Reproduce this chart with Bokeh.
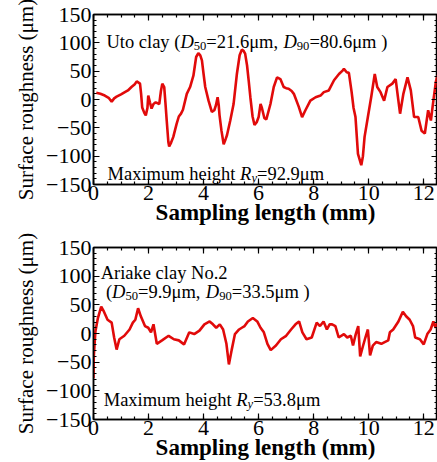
from bokeh.plotting import figure
from bokeh.layouts import column
from bokeh.models import Label, LinearAxis, Range1d, FixedTicker
from bokeh.embed import file_html
from bokeh.resources import INLINE
import numpy as np

# ---------------- data ----------------
uto_x = [0.10, 0.25, 0.41, 0.55, 0.66, 0.75, 0.84, 1.00, 1.14, 1.25, 1.38, 1.50, 1.57, 1.69,
         1.73, 1.77, 1.85, 1.90, 1.96, 1.99, 2.05, 2.11, 2.18, 2.26, 2.39, 2.45, 2.50, 2.57,
         2.62, 2.66, 2.72, 2.75, 2.82, 2.90, 3.02, 3.10, 3.18, 3.25, 3.39, 3.51, 3.63, 3.73,
         3.81, 3.88, 3.94, 4.00, 4.06, 4.18, 4.30, 4.39, 4.45, 4.51, 4.55, 4.58, 4.65, 4.73,
         4.80, 4.85, 4.97, 5.09, 5.21, 5.31, 5.39, 5.45, 5.51, 5.58, 5.64, 5.70, 5.78, 5.85,
         5.93, 6.00, 6.07, 6.12, 6.21, 6.28, 6.43, 6.55, 6.67, 6.79, 6.91, 7.00, 7.09, 7.20,
         7.28, 7.46, 7.58, 7.70, 7.88, 8.07, 8.25, 8.37, 8.55, 8.74, 8.92, 9.05, 9.10, 9.20,
         9.28, 9.38, 9.45, 9.52, 9.61, 9.73, 9.79, 9.85, 9.97, 10.09, 10.22, 10.31, 10.43,
         10.56, 10.68, 10.86, 10.98, 11.06, 11.14, 11.26, 11.41, 11.53, 11.65, 11.80, 11.92,
         12.04, 12.16, 12.26, 12.35, 12.44, 12.50]
uto_y = [12, 10, 7, 3, -4, 2, 5, 9, 13, 16, 22, 27, 32, 28,
         10, -14, -24, -28, -15, 7, -5, -16, -8, -5, -8, 15, 28, 22,
         -10, -37, -75, -83, -76, -66, -43, -30, -25, -18, 10, 22, 42, 75,
         82, 78, 69, 45, 22, -2, -22, -19, -10, 4, -10, -28, -55, -79,
         -70, -63, -37, -8, 45, 78, 88, 86, 81, 60, 33, 4, -30, -45,
         -40, -31, -8, -15, -33, -35, -8, 22, 39, 36, 22, 20, 19, 15,
         10, -13, -31, -19, -2, 4, 7, 13, 16, 34, 45, 51, 54, 48,
         47, 13, -15, -31, -96, -116, -100, -66, -31, 4, 45, 22, 13,
         -2, 22, 28, 36, 5, -25, 10, 39, 16, -31, -31, -55,
         -60, -19, -37, -2, 31, 42]

ariake_x = [0.00, 0.01, 0.07, 0.16, 0.28, 0.38, 0.51, 0.66, 0.75, 0.84, 0.94, 1.12, 1.31,
            1.43, 1.52, 1.62, 1.72, 1.87, 1.99, 2.09, 2.18, 2.30, 2.49, 2.73, 2.92, 3.10,
            3.29, 3.48, 3.66, 3.85, 4.03, 4.22, 4.34, 4.46, 4.59, 4.71, 4.83, 4.92, 5.02,
            5.14, 5.29, 5.39, 5.49, 5.61, 5.79, 5.95, 6.07, 6.19, 6.32, 6.44, 6.63, 6.81,
            7.00, 7.18, 7.34, 7.47, 7.59, 7.74, 7.93, 8.11, 8.23, 8.36, 8.48, 8.58, 8.67,
            8.79, 8.91, 9.10, 9.22, 9.35, 9.43, 9.53, 9.62, 9.69, 9.78, 9.88, 9.97, 10.05,
            10.15, 10.27, 10.46, 10.58, 10.71, 10.77, 10.89, 11.08, 11.24, 11.36, 11.49,
            11.61, 11.69, 11.86, 12.00, 12.13, 12.25, 12.35, 12.43, 12.50]
ariake_y = [-78, -40, 4, 27, 47, 38, 24, 19, -7, -28, -10, -4, 7,
            19, 24, 44, 30, 13, 10, 2, 16, -18, -12, -4, -10, -12,
            -19, 2, -1, 5, 16, 21, 16, 10, 16, 7, -18, -54, -29,
            -1, 7, 10, 13, 21, 27, 21, 10, 2, -18, -29, -21, -10,
            -4, 7, 16, 21, 2, -10, -7, 19, 13, 21, 7, 16, 16,
            13, -7, -1, -7, -4, -21, -1, 13, -40, -24, -7, 7, -38,
            -21, -15, -18, -15, -12, 2, 7, 21, 38, 30, 24,
            13, -7, -10, -19, -1, 7, 21, 10, 19]

x_ticks = [0, 2, 4, 6, 8, 10, 12]
y_ticks = [-150, -100, -50, 0, 50, 100, 150]

FONT = "Liberation Serif"
RED = "#e10a0a"

# approximate Times/Liberation Serif advance widths (1/1000 em), used to lay out rich text
W_REG = {" ": 250, "(": 333, ")": 333, ",": 250, ".": 250, "=": 564, "\u03bc": 576,
         "U": 722, "t": 278, "o": 500, "c": 444, "l": 278, "a": 444, "y": 500, "M": 889,
         "x": 500, "i": 278, "m": 778, "u": 500, "h": 500, "e": 444, "g": 500, "A": 722,
         "r": 333, "k": 500, "N": 722}
W_IT = {"D": 722, "R": 611, "y": 444}


def tw(text, italic):
    tbl = W_IT if italic else W_REG
    return sum(tbl.get(ch, 500) for ch in text) / 1000.0


def make_fig(height, left, top, bottom, xs, ys):
    p = figure(width=437, height=height, output_backend="svg", toolbar_location=None,
               x_range=Range1d(0, 12.5), y_range=Range1d(-150, 150),
               min_border_left=left, min_border_right=0, min_border_top=top,
               min_border_bottom=bottom, x_axis_location=None, y_axis_location=None)
    p.xgrid.visible = False
    p.ygrid.visible = False
    p.outline_line_color = "black"
    p.outline_line_width = 1.5
    p.background_fill_color = "white"
    p.border_fill_color = "white"

    xt = FixedTicker(ticks=x_ticks, minor_ticks=list(np.arange(0, 12.51, 0.5)))
    yt = FixedTicker(ticks=y_ticks, minor_ticks=list(np.arange(-150, 151, 10)))

    for loc in ["below", "above"]:
        p.add_layout(LinearAxis(ticker=xt), loc)
    for loc in ["left", "right"]:
        p.add_layout(LinearAxis(ticker=yt), loc)

    for ax in p.axis:
        ax.axis_line_color = "black"
        ax.axis_line_width = 1.5
        ax.major_tick_in = 6
        ax.major_tick_out = 0
        ax.minor_tick_in = 3
        ax.minor_tick_out = 0
        ax.major_tick_line_color = "black"
        ax.minor_tick_line_color = "black"
        ax.major_tick_line_width = 1.2
        ax.minor_tick_line_width = 1.2
        ax.major_label_text_font = FONT
        ax.major_label_text_font_size = "22px"
        ax.major_label_text_color = "black"
        ax.axis_label_text_font = FONT
        ax.axis_label_text_color = "black"
        ax.axis_label_text_font_style = "normal"

    for ax in p.above + p.right:
        ax.major_label_text_font_size = "0px"
        ax.major_label_text_color = None
        ax.major_label_standoff = 0
        ax.axis_label = None
        ax.axis_label_standoff = 0

    bx = p.below[0]
    bx.axis_label = "Sampling length (mm)"
    bx.axis_label_text_font_size = "23px"
    bx.axis_label_text_font_style = "bold"
    bx.major_label_standoff = 1
    bx.axis_label_standoff = -3

    ly = p.left[0]
    ly.axis_label = "Surface roughness (\u03bcm)"
    ly.axis_label_text_font_size = "21px"
    ly.major_label_standoff = 2
    ly.axis_label_standoff = 5

    p.line(xs, ys, line_color=RED, line_width=2.6)
    return p


def rich(p, x, y, segs, sub_dy, size=18.5):
    """segs: list of (text, kind) with kind in 'n', 'i', 'sub', 'isub'"""
    off = 0.0
    for text, kind in segs:
        italic = kind in ("i", "isub")
        sub = kind in ("sub", "isub")
        fs = size * 0.68 if sub else size
        p.add_layout(Label(x=x, y=(y - sub_dy) if sub else y, x_offset=off, text=text,
                           text_font=FONT, text_font_size=f"{fs:.1f}px",
                           text_font_style="italic" if italic else "normal",
                           text_color="black", text_baseline="alphabetic"))
        off += tw(text, italic) * fs


# ---------------- top panel ----------------
p1 = make_fig(231, 87, 14, 47, uto_x, uto_y)
rich(p1, 0.47, 101, [("Uto clay (", "n"), ("D", "i"), ("50", "sub"), ("=21.6\u03bcm, ", "n"),
                     ("D", "i"), ("90", "sub"), ("=80.6\u03bcm )", "n")], 7)
rich(p1, 0.51, -131, [("Maximum height ", "n"), ("R", "i"), ("y", "isub"),
                      ("=92.9\u03bcm", "n")], 7)

# ---------------- bottom panel ----------------
p2 = make_fig(231, 93, 16, 37, ariake_x, ariake_y)
rich(p2, 0.26, 106, [("Ariake clay No.2", "n")], 7)
rich(p2, 0.45, 72, [("(", "n"), ("D", "i"), ("50", "sub"), ("=9.9\u03bcm, ", "n"),
                    ("D", "i"), ("90", "sub"), ("=33.5\u03bcm )", "n")], 7)
rich(p2, 0.37, -116, [("Maximum height ", "n"), ("R", "i"), ("y", "isub"),
                      ("=53.8\u03bcm", "n")], 7)

layout = column(p1, p2, spacing=0)
open("out.html", "w").write(file_html(layout, INLINE))
